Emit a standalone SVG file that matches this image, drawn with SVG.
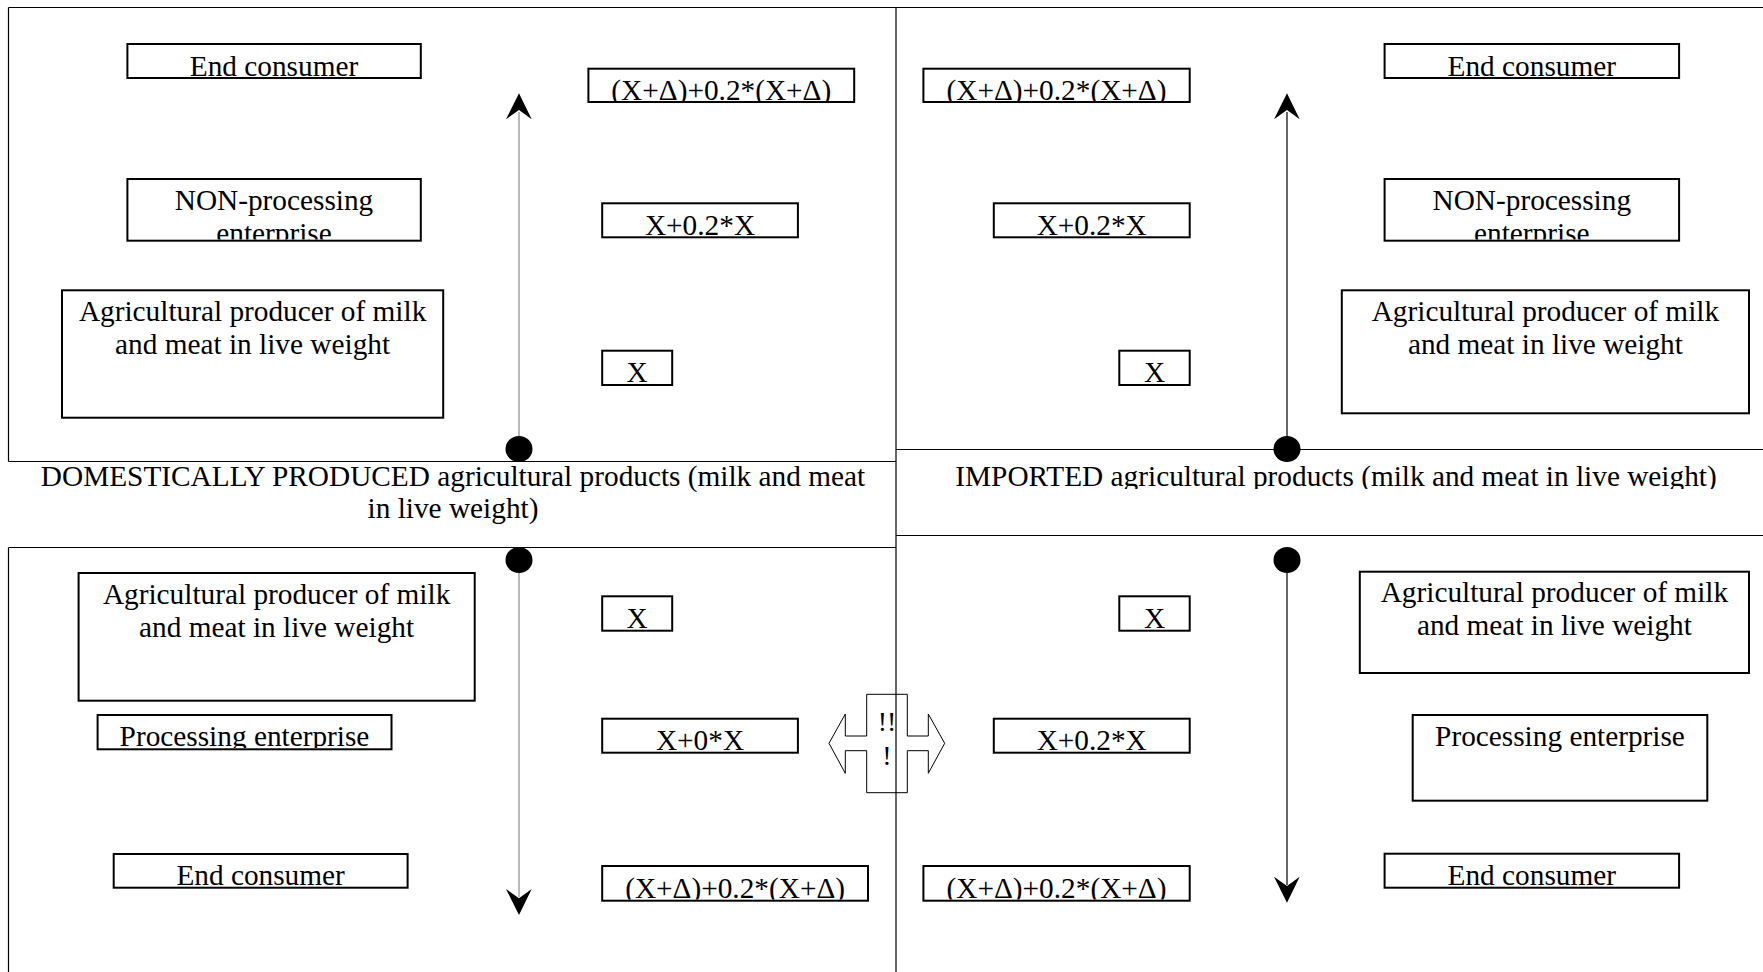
<svg xmlns="http://www.w3.org/2000/svg" width="1763" height="972" viewBox="0 0 1763 972">
<style>
.box{fill:#fff;stroke:#000;stroke-width:2}
.fr{fill:none;stroke:#000;stroke-width:1.2}
.t{font-family:"Liberation Serif","Times New Roman",serif;font-size:29.3px;text-anchor:middle;fill:#000}
.ex{font-family:"Liberation Serif","Times New Roman",serif;font-size:28px;text-anchor:middle;fill:#000}
.ln{stroke-width:1.2;fill:none}
</style>
<defs>
<clipPath id="c1" clipPathUnits="userSpaceOnUse"><rect x="127" y="179" width="294" height="60.5"/></clipPath>
<clipPath id="c2" clipPathUnits="userSpaceOnUse"><rect x="1384" y="179" width="295" height="60.5"/></clipPath>
<clipPath id="c3" clipPathUnits="userSpaceOnUse"><rect x="588" y="68" width="266" height="33"/></clipPath>
<clipPath id="c4" clipPathUnits="userSpaceOnUse"><rect x="923" y="68" width="267" height="33"/></clipPath>
<clipPath id="c5" clipPathUnits="userSpaceOnUse"><rect x="602" y="866" width="266" height="33.5"/></clipPath>
<clipPath id="c6" clipPathUnits="userSpaceOnUse"><rect x="923" y="866" width="267" height="33.5"/></clipPath>
<clipPath id="c7" clipPathUnits="userSpaceOnUse"><rect x="97" y="715" width="294" height="33"/></clipPath>
<clipPath id="c8" clipPathUnits="userSpaceOnUse"><rect x="897" y="450" width="866" height="39"/></clipPath>
</defs>
<rect width="1763" height="972" fill="#fff"/>

<g id="frames">
<line class="fr" x1="8.5" y1="7.5" x2="1763" y2="7.5"/>
<line class="fr" x1="8.5" y1="7.5" x2="8.5" y2="461.5"/>
<line class="fr" x1="8.5" y1="461.5" x2="896" y2="461.5"/>
<line class="fr" x1="896" y1="449.5" x2="1763" y2="449.5"/>
<line class="fr" x1="896" y1="535.5" x2="1763" y2="535.5"/>
<line class="fr" x1="8.5" y1="547.5" x2="896" y2="547.5"/>
<line class="fr" x1="8.5" y1="547.5" x2="8.5" y2="972"/>
</g>

<g id="label-domestic">
<text class="t" x="453" y="485.5">DOMESTICALLY PRODUCED agricultural products (milk and meat</text>
<text class="t" x="453" y="518">in live weight)</text>
</g>
<g id="label-imported" clip-path="url(#c8)">
<text class="t" x="1336" y="485.5">IMPORTED agricultural products (milk and meat in live weight)</text>
</g>

<!-- Top-left panel -->
<g id="tl-end-consumer"><rect class="box" x="127.4" y="44" width="293.4" height="34"/><text class="t" x="274" y="75.5">End consumer</text></g>
<g id="tl-nonprocessing"><rect class="box" x="127.4" y="179" width="293.4" height="61.7"/><g clip-path="url(#c1)"><text class="t" x="274" y="209.5">NON-processing</text><text class="t" x="274" y="242.5">enterprise</text></g></g>
<g id="tl-producer"><rect class="box" x="62" y="290.3" width="381.2" height="127.4"/><text class="t" x="252.6" y="321">Agricultural producer of milk</text><text class="t" x="252.6" y="354">and meat in live weight</text></g>
<g id="tl-f3"><rect class="box" x="588.4" y="68.7" width="265.8" height="33.3"/><text class="t" x="721.3" y="99.5" clip-path="url(#c3)">(X+Δ)+0.2*(X+Δ)</text></g>
<g id="tl-f2"><rect class="box" x="602.2" y="203.3" width="195.7" height="34"/><text class="t" x="700" y="234.5">X+0.2*X</text></g>
<g id="tl-f1"><rect class="box" x="602.2" y="350.7" width="70" height="34.3"/><text class="t" x="637.2" y="382">X</text></g>

<!-- Top-right panel -->
<g id="tr-end-consumer"><rect class="box" x="1384.6" y="44" width="294.5" height="34"/><text class="t" x="1531.8" y="75.5">End consumer</text></g>
<g id="tr-nonprocessing"><rect class="box" x="1384.6" y="179" width="294.5" height="61.7"/><g clip-path="url(#c2)"><text class="t" x="1531.8" y="209.5">NON-processing</text><text class="t" x="1531.8" y="242.5">enterprise</text></g></g>
<g id="tr-producer"><rect class="box" x="1341.8" y="290.3" width="407.2" height="123"/><text class="t" x="1545.4" y="320.5">Agricultural producer of milk</text><text class="t" x="1545.4" y="353.5">and meat in live weight</text></g>
<g id="tr-f3"><rect class="box" x="923.4" y="68.7" width="266.3" height="33.3"/><text class="t" x="1056.5" y="99.5" clip-path="url(#c4)">(X+Δ)+0.2*(X+Δ)</text></g>
<g id="tr-f2"><rect class="box" x="993.8" y="203.3" width="195.9" height="34"/><text class="t" x="1091.7" y="234.5">X+0.2*X</text></g>
<g id="tr-f1"><rect class="box" x="1119.3" y="350.7" width="70.4" height="34.3"/><text class="t" x="1154.5" y="382">X</text></g>

<!-- Bottom-left panel -->
<g id="bl-producer"><rect class="box" x="78.6" y="573" width="396.1" height="127.7"/><text class="t" x="276.6" y="603.5">Agricultural producer of milk</text><text class="t" x="276.6" y="636.5">and meat in live weight</text></g>
<g id="bl-processing"><rect class="box" x="97.6" y="715" width="293.9" height="34.3"/><text class="t" x="244.5" y="746" clip-path="url(#c7)">Processing enterprise</text></g>
<g id="bl-end-consumer"><rect class="box" x="113.7" y="854" width="293.9" height="33.7"/><text class="t" x="260.6" y="885">End consumer</text></g>
<g id="bl-f1"><rect class="box" x="602.2" y="596.3" width="70" height="34.4"/><text class="t" x="637.2" y="627.5">X</text></g>
<g id="bl-f2"><rect class="box" x="602.2" y="718.7" width="195.7" height="34"/><text class="t" x="700" y="750">X+0*X</text></g>
<g id="bl-f3"><rect class="box" x="602.2" y="866" width="265.8" height="34.7"/><text class="t" x="735.1" y="897.5" clip-path="url(#c5)">(X+Δ)+0.2*(X+Δ)</text></g>

<!-- Bottom-right panel -->
<g id="br-producer"><rect class="box" x="1359.8" y="571.7" width="389.2" height="101.3"/><text class="t" x="1554.4" y="602">Agricultural producer of milk</text><text class="t" x="1554.4" y="635">and meat in live weight</text></g>
<g id="br-processing"><rect class="box" x="1412.7" y="715" width="294.6" height="85.7"/><text class="t" x="1560" y="746">Processing enterprise</text></g>
<g id="br-end-consumer"><rect class="box" x="1384.6" y="853.7" width="294.5" height="34"/><text class="t" x="1531.8" y="885">End consumer</text></g>
<g id="br-f1"><rect class="box" x="1119.3" y="596.3" width="70.4" height="34.4"/><text class="t" x="1154.5" y="627.5">X</text></g>
<g id="br-f2"><rect class="box" x="993.8" y="718.7" width="195.9" height="34"/><text class="t" x="1091.7" y="750">X+0.2*X</text></g>
<g id="br-f3"><rect class="box" x="923.4" y="866" width="266.3" height="34.7"/><text class="t" x="1056.5" y="897.5" clip-path="url(#c6)">(X+Δ)+0.2*(X+Δ)</text></g>

<!-- double arrow -->
<g id="double-arrow">
<polygon points="866.7,694.3 907.3,694.3 907.3,736 928.3,736 928.3,714 944.7,743.3 928.3,773.3 928.3,750.7 907.3,750.7 907.3,792.7 866.7,792.7 866.7,750.7 845.3,750.7 845.3,773.3 829,743.3 845.3,714 845.3,736 866.7,736" fill="#fff" stroke="#000" stroke-width="1"/>
<text class="ex" x="887" y="731">!!</text>
<text class="ex" x="887" y="765">!</text>
</g>

<g id="divider">
<line class="fr" x1="896" y1="7.5" x2="896" y2="972"/>
</g>

<g id="connectors">
<line class="ln" x1="519" y1="449" x2="519" y2="112" stroke="#8a8a8a"/>
<polygon points="519,93.3 506,119.3 519,110 531.7,119.3" fill="#000"/>
<ellipse cx="519" cy="449" rx="13.5" ry="13" fill="#000"/>

<line class="ln" x1="1287" y1="449" x2="1287" y2="112" stroke="#000"/>
<polygon points="1287,93.3 1274,119.3 1287,110 1299.7,119.3" fill="#000"/>
<ellipse cx="1287" cy="449" rx="13.5" ry="13" fill="#000"/>

<line class="ln" x1="519" y1="560" x2="519" y2="897" stroke="#8a8a8a"/>
<polygon points="519,915 506,889 519,898.3 531.7,889" fill="#000"/>
<ellipse cx="519" cy="560" rx="13.5" ry="13" fill="#000"/>

<line class="ln" x1="1287" y1="560" x2="1287" y2="885" stroke="#000"/>
<polygon points="1287,902.7 1274,876.7 1287,886 1299.7,876.7" fill="#000"/>
<ellipse cx="1287" cy="560" rx="13.5" ry="13" fill="#000"/>
</g>
</svg>
